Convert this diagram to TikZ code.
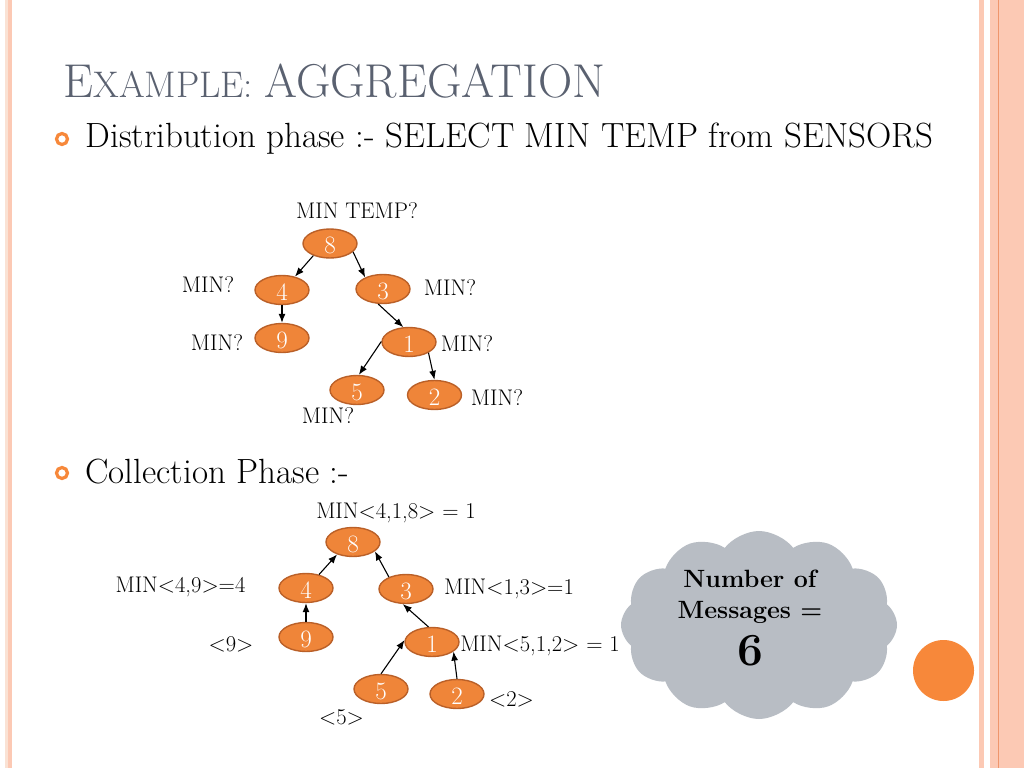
\documentclass[tikz,border=0pt]{standalone}
\usetikzlibrary{positioning,shapes,arrows.meta}
\definecolor{sensorfill}{RGB}{239,133,57}
\definecolor{sensoredge}{RGB}{186,96,40}
\definecolor{titlegray}{RGB}{90,97,112}
\definecolor{cloudgray}{RGB}{184,189,196}
\definecolor{dotorange}{RGB}{247,136,58}
\definecolor{stripe}{RGB}{252,201,180}
\definecolor{stripepale}{RGB}{250,226,212}
\definecolor{stripeline}{RGB}{239,150,108}

\begin{document}
\begin{tikzpicture}[-{Latex[length=9pt,width=7pt]}, x=1pt, y=-1pt, line width=1.1pt,
        sensor/.style = {draw=sensoredge, line width=1.4pt, fill=sensorfill, ellipse,
            minimum width=54pt, minimum height=29pt, inner sep=0pt, text=white,
            font=\fontsize{25}{25}\selectfont, text height=20pt, text depth=0pt},
        lbl/.style = {anchor=base, inner sep=0pt, font=\fontsize{22.6}{25}\selectfont},
        bullet/.style = {circle, draw=dotorange, line width=3.2pt, minimum size=11pt, inner sep=0pt}]
    \useasboundingbox (0,0) rectangle (1024,768);
    \fill[white] (0,0) rectangle (1024,768);
    % slide borders
    \fill[stripepale] (5,0) rectangle (8,768);
    \fill[stripe] (8,0) rectangle (12,768);
    \fill[stripe] (979,0) rectangle (984,768);
    \fill[stripe] (990,0) rectangle (1024,768);
    \fill[stripeline] (997.5,0) rectangle (999,768);

    \node[anchor=base west, inner sep=0pt, text=titlegray] (title) at (63,97)
        {\fontsize{47.5}{50}\selectfont E\fontsize{37}{40}\selectfont XAMPLE: \fontsize{47.5}{50}\selectfont AGGREGATION};
    \node[bullet] (b1) at (62,139) {};
    \node[anchor=base west, inner sep=0pt, font=\fontsize{35}{38}\selectfont] (dist) at (85,147)
        {Distribution phase :- SELECT MIN TEMP from SENSORS};

    % distribution phase
    \node[sensor] (d8) at (330,243.5) {8};
    \node[sensor] (d4) at (282,290) {4};
    \node[sensor] (d3) at (383,289) {3};
    \node[sensor] (d9) at (282,338) {9};
    \node[sensor] (d1) at (409,342) {1};
    \node[sensor] (d5) at (357,390) {5};
    \node[sensor] (d2) at (434.5,395) {2};
    \draw (d8.216) -- (d4.46);
    \draw (d8.340) -- (d3.147);
    \draw (d4.south) -- (d9.north);
    \draw (d3.252) -- (d1.111);
    \draw (d1.179) -- (d5.83);
    \draw (d1.331) -- (d2.north);
    \node[lbl] (q8) at (357,218) {MIN TEMP?};
    \node[lbl] (q4) at (208,292) {MIN?};
    \node[lbl] (q3) at (450,295.5) {MIN?};
    \node[lbl] (q9) at (217,350) {MIN?};
    \node[lbl] (q1) at (467,351) {MIN?};
    \node[lbl] (q2) at (497,405) {MIN?};
    \node[lbl] (q5) at (328,423.5) {MIN?};

    \node[bullet] (b2) at (62,473) {};
    \node[anchor=base west, inner sep=0pt, font=\fontsize{35}{38}\selectfont] (coll) at (85,483)
        {Collection Phase :-};

    % collection phase
    \node[sensor] (c8) at (353,542) {8};
    \node[sensor] (c4) at (306,588) {4};
    \node[sensor] (c3) at (406,589) {3};
    \node[sensor] (c9) at (306,637) {9};
    \node[sensor] (c1) at (432,642) {1};
    \node[sensor] (c5) at (381,689) {5};
    \node[sensor] (c2) at (457,694) {2};
    \draw (c4.46) -- (c8.218);
    \draw (c3.145) -- (c8.337);
    \draw (c9.north) -- (c4.south);
    \draw (c1.103) -- (c3.258);
    \draw (c5.north) -- (c1.176);
    \draw (c2.north) -- (c1.336);
    \node[lbl] (a8) at (396,518) {MIN<4,1,8> = 1};
    \node[lbl] (a4) at (180.5,592) {MIN<4,9>=4};
    \node[lbl] (a3) at (509,594) {MIN<1,3>=1};
    \node[lbl] (a9) at (231,651) {<9>};
    \node[lbl] (a1) at (540,651) {MIN<5,1,2> = 1};
    \node[lbl] (a2) at (511.5,706) {<2>};
    \node[lbl] (a5) at (341.5,724) {<5>};

    % message count
    \node[cloud, cloud puffs=12, cloud puff arc=105, aspect=1.45, fill=cloudgray,
        minimum width=276pt, minimum height=188pt] (cloudbg) at (759,625) {};
    \node[align=center, inner sep=0pt, font=\bfseries\fontsize{25}{31}\selectfont] (msgs) at (750,618)
        {Number of\\Messages =\\[11pt]\fontsize{46}{50}\selectfont 6};
    \fill[dotorange] (943.5,670.5) circle (30.5);
\end{tikzpicture}
\end{document}
